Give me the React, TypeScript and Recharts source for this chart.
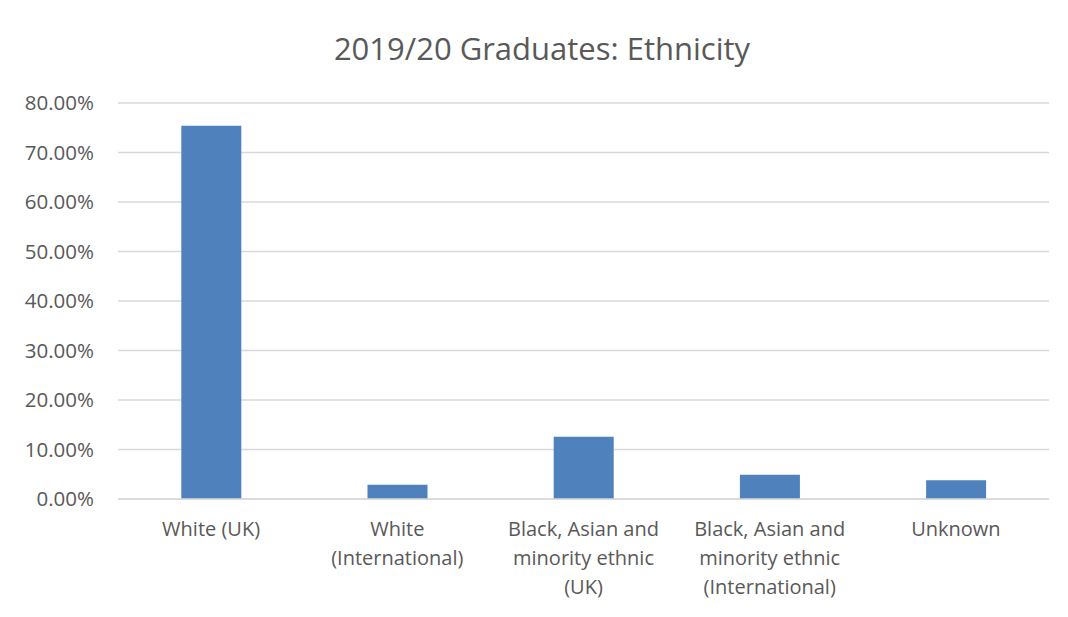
import { BarChart, Bar, XAxis, YAxis, CartesianGrid } from 'recharts';

const categories = [
  'White (UK)',
  'White (International)',
  'Black, Asian and minority ethnic (UK)',
  'Black, Asian and minority ethnic (International)',
  'Unknown',
];
const shares = [0.754, 0.029, 0.126, 0.049, 0.038];
const yTicks = [0, 0.1, 0.2, 0.3, 0.4, 0.5, 0.6, 0.7, 0.8];

const data = categories.map((name, i) => ({ name, value: shares[i] }));

const FONT = "'Open Sans', 'Noto Sans', sans-serif";
const TEXT = '#595959';

function wrap(label: string, max = 18) {
  const lines: string[] = [];
  let cur = '';
  for (const w of label.split(' ')) {
    const next = cur ? cur + ' ' + w : w;
    if (next.length > max && cur) {
      lines.push(cur);
      cur = w;
    } else {
      cur = next;
    }
  }
  if (cur) lines.push(cur);
  return lines;
}

function CategoryTick({ x, y, payload }: any) {
  const lines = wrap(payload.value);
  return (
    <text x={x} y={y} textAnchor="middle" fill={TEXT} fontSize={20} fontFamily={FONT}>
      {lines.map((l, i) => (
        <tspan key={i} x={x} dy={29}>
          {l}
        </tspan>
      ))}
    </text>
  );
}

function Frame() {
  return (
    <g>
      <line x1={6} y1={4.5} x2={1068} y2={4.5} stroke="#d4d4d4" strokeWidth={1.5} />
      <line x1={6} y1={4} x2={6} y2={617} stroke="#d4d4d4" strokeWidth={1.5} />
    </g>
  );
}

export default function App() {
  return (
    <div style={{ position: 'relative', width: 1052, height: 609 }}>
      <div style={{ position: 'absolute', left: -8, top: -8, width: 1068, height: 617 }}>
        <div
          style={{
            position: 'absolute',
            top: 27,
            left: 0,
            width: 1084,
            textAlign: 'center',
            fontFamily: FONT,
            fontSize: 31,
            color: TEXT,
            lineHeight: '42px',
          }}
        >
          2019/20 Graduates: Ethnicity
        </div>
        <div style={{ position: 'absolute', left: 0, top: 0 }}>
          <BarChart
            width={1068}
            height={617}
            data={data}
            margin={{ top: 103, right: 19, bottom: 0, left: 8 }}
            barCategoryGap="34%"
          >
            <CartesianGrid vertical={false} stroke="#d9d9d9" strokeWidth={1.3} />
            <XAxis
              dataKey="name"
              height={118}
              interval={0}
              tickLine={false}
              axisLine={{ stroke: '#d9d9d9', strokeWidth: 1.3 }}
              tick={<CategoryTick />}
            />
            <YAxis
              width={110}
              domain={[0, 0.8]}
              ticks={yTicks}
              interval={0}
              axisLine={false}
              tickLine={false}
              tickMargin={18}
              tickFormatter={(v: number) => (v * 100).toFixed(2) + '%'}
              tick={{ fill: TEXT, fontSize: 20.5, fontFamily: FONT }}
            />
            <Bar dataKey="value" fill="#4f81bd" isAnimationActive={false} />
            <Frame />
          </BarChart>
        </div>
      </div>
    </div>
  );
}
